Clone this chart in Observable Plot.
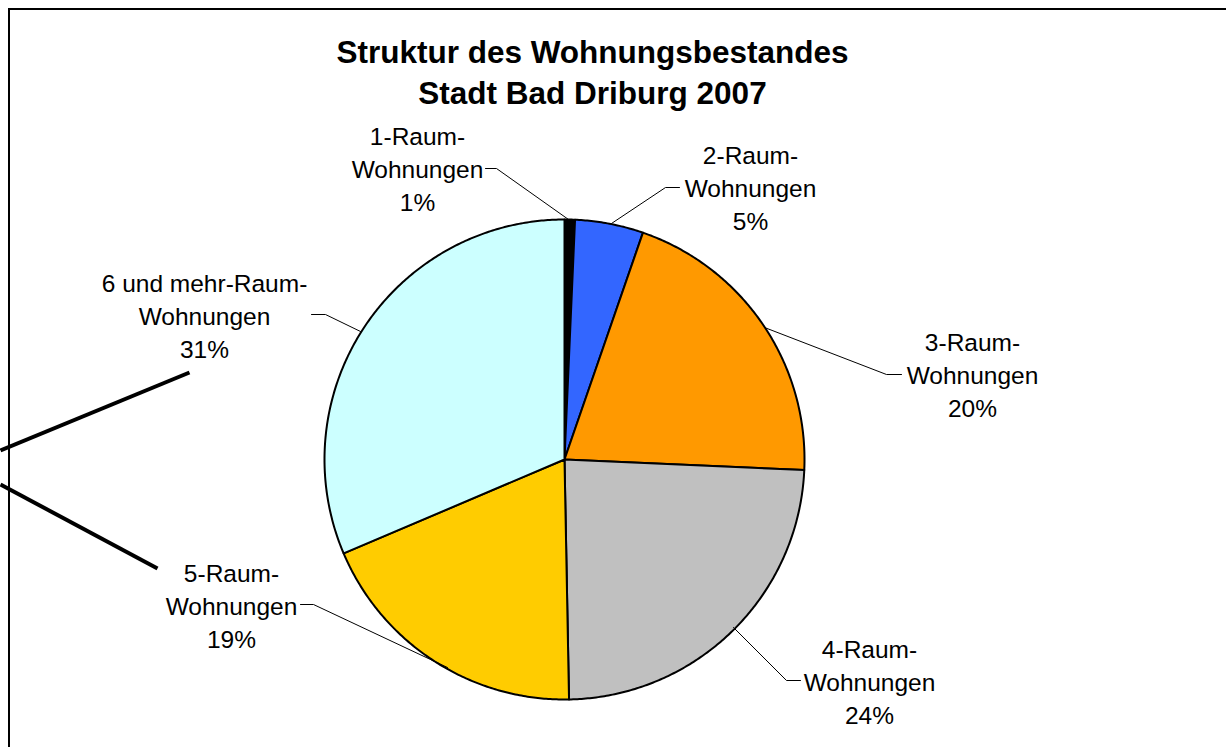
<!DOCTYPE html>
<html>
<head>
<meta charset="utf-8">
<script src="https://cdn.jsdelivr.net/npm/d3@7"></script>
<script src="https://cdn.jsdelivr.net/npm/@observablehq/plot@0.6"></script>
<style>
  html, body { margin: 0; padding: 0; background: #fff; }
  #wrap { position: relative; width: 1226px; height: 747px; overflow: hidden; }
  #frame { position: absolute; left: 7.5px; top: 7.5px; width: 1300px; height: 800px;
           border-left: 2.5px solid #000; border-top: 2.5px solid #000; pointer-events: none; }
</style>
</head>
<body>
<div id="wrap"><div id="frame"></div></div>
<script>
// ---- data ----
const categories = ["1-Raum-Wohnungen", "2-Raum-Wohnungen", "3-Raum-Wohnungen",
                    "4-Raum-Wohnungen", "5-Raum-Wohnungen", "6 und mehr-Raum-Wohnungen"];
const shares = [0.7, 4.6, 20.4, 24.0, 18.9, 31.4];
const labelFirstLines = ["1-Raum-", "2-Raum-", "3-Raum-", "4-Raum-", "5-Raum-", "6 und mehr-Raum-"];
const labelSecondLines = ["Wohnungen", "Wohnungen", "Wohnungen", "Wohnungen", "Wohnungen", "Wohnungen"];
const titleLines = ["Struktur des Wohnungsbestandes", "Stadt Bad Driburg 2007"];

// ---- styles ----
const colors = ["#000000", "#3366FF", "#FF9900", "#C0C0C0", "#FFCC00", "#CCFFFF"];

// ---- layout (pixels) ----
const W = 1226, H = 747;
const pieLayout = {cx: 564, cy: 459, r: 240};
const labelPos = [[417, 167], [750, 186], [972, 373], [869, 680], [231, 604], [204, 314]];
const leaderPaths = [
  [[485, 168], [496, 168], [568, 219]],
  [[679, 187], [665, 187], [611, 223]],
  [[901, 374], [886, 374], [764, 327]],
  [[800, 680], [786, 680], [733, 627]],
  [[300, 604], [313, 604], [447, 667]],
  [[311, 314], [325, 314], [360, 331]]
];
const decorSegments = [
  [[0, 450], [189, 372]],
  [[0, 484], [157, 568]]
];
const titlePos = [592, 69.5];

// ---- build geometry from data ----
const total = d3.sum(shares);
const arcs = d3.pie().sort(null).value(d => d)(shares);
const slicePoints = [];
arcs.forEach((a, i) => {
  const cat = categories[i];
  const {cx, cy, r} = pieLayout;
  slicePoints.push({cat, x: cx, y: cy});
  const steps = Math.max(2, Math.ceil((a.endAngle - a.startAngle) / (Math.PI / 360)));
  for (let k = 0; k <= steps; k++) {
    const t = a.startAngle + (a.endAngle - a.startAngle) * k / steps;
    slicePoints.push({cat, x: cx + r * Math.sin(t), y: cy - r * Math.cos(t)});
  }
  slicePoints.push({cat, x: cx, y: cy});
});

const labels = categories.map((c, i) => ({
  cat: c,
  x: labelPos[i][0],
  y: labelPos[i][1],
  text: labelFirstLines[i] + "\n" + labelSecondLines[i] + "\n" + Math.round(shares[i] / total * 100) + "%"
}));

const leaderPoints = leaderPaths.flatMap((p, i) => p.map(([x, y]) => ({id: i, x, y})));
const decorPoints = decorSegments.flatMap((p, i) => p.map(([x, y]) => ({id: i, x, y})));

const font = "Arial, 'Liberation Sans', Helvetica, sans-serif";

const chart = Plot.plot({
  width: W,
  height: H,
  margin: 0,
  style: {background: "transparent", fontFamily: font, color: "#000", overflow: "visible"},
  x: {domain: [0, W], range: [0, W], axis: null},
  y: {domain: [0, H], range: [0, H], axis: null},
  color: {domain: categories, range: colors, type: "ordinal"},
  marks: [
    Plot.line(decorPoints, {x: "x", y: "y", z: "id", stroke: "#000", strokeWidth: 4, strokeLinecap: "butt"}),
    Plot.line(slicePoints, {x: "x", y: "y", z: "cat", fill: "cat", stroke: "#000", strokeWidth: 2, strokeLinejoin: "round", curve: "linear"}),
    Plot.line(leaderPoints, {x: "x", y: "y", z: "id", stroke: "#000", strokeWidth: 1, strokeLinejoin: "miter"}),
    Plot.text(labels, {x: "x", y: "y", text: "text", fontSize: 24.5, lineHeight: 1.33, lineAnchor: "middle", textAnchor: "middle", fill: "#000", fontFamily: font}),
    Plot.text([titleLines.join("\n")], {x: () => titlePos[0], y: () => titlePos[1], text: d => d, fontSize: 31.5, fontWeight: "bold", lineHeight: 1.3, lineAnchor: "middle", textAnchor: "middle", fill: "#000", fontFamily: font})
  ]
});
chart.style.position = "absolute";
chart.style.left = "0px";
chart.style.top = "0px";
document.getElementById("wrap").prepend(chart);
</script>
</body>
</html>
